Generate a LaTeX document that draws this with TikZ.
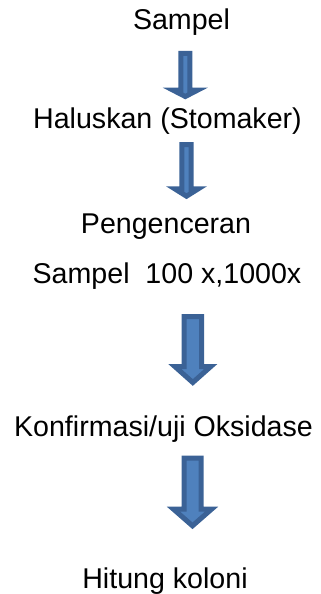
\documentclass[tikz,border=0pt]{standalone}
\usepackage{fontspec}
\setmainfont{Liberation Sans}
\definecolor{arrowfill}{HTML}{4F81BD}
\definecolor{arrowline}{HTML}{3B6296}
\tikzset{
  lbl/.style={anchor=base, inner sep=0pt, font=\fontsize{28.6}{34}\selectfont},
  blockarr/.style={fill=arrowfill, draw=arrowline, line width=5pt, line join=miter}
}
% \blockarrow{cx}{top}{headstart}{tip}{shafthalf}{headhalf}  (outer sizes, y down, pt)
\newcommand{\blockarrow}[6]{%
  \path[blockarr]
    ({#1pt-#5pt+2.5pt},{-#2pt-2.5pt}) -- ({#1pt+#5pt-2.5pt},{-#2pt-2.5pt})
    -- ({#1pt+#5pt-2.5pt},{-#3pt-2.5pt}) -- ({#1pt+#6pt-3.5pt},{-#3pt-2.5pt})
    -- ({#1pt},{-#4pt+3.5pt}) -- ({#1pt-#6pt+3.5pt},{-#3pt-2.5pt})
    -- ({#1pt-#5pt+2.5pt},{-#3pt-2.5pt}) -- cycle;}
\begin{document}
\begin{tikzpicture}
\useasboundingbox (0,0) rectangle (321pt,-594pt);
\node[lbl] (s1) at (181.5pt,-30pt) {Sampel};
\node[lbl] (s2) at (167.5pt,-128.3pt) {Haluskan (Stomaker)};
\node[lbl] (s3) at (166pt,-233.3pt) {Pengenceran};
\node[lbl] (s4) at (167pt,-283.3pt) {Sampel\ \ 100 x,1000x};
\node[lbl] (s5) at (163.5pt,-436.7pt) {Konfirmasi/uji Oksidase};
\node[lbl] (s6) at (165pt,-588.3pt) {Hitung koloni};
\blockarrow{185.3}{51}{87.7}{100}{7}{15.7}
\blockarrow{186.5}{142}{186.3}{199.7}{7.2}{15.3}
\blockarrow{192.8}{314}{364}{386}{11.2}{21.5}
\blockarrow{192.5}{455.7}{506.7}{529.3}{11}{22.5}
\end{tikzpicture}
\end{document}
